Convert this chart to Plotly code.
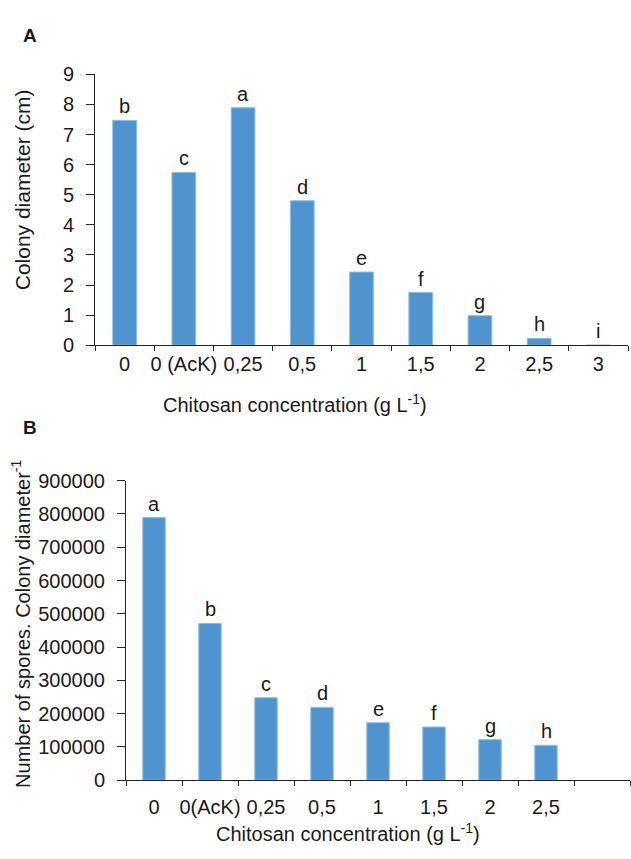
import plotly.graph_objects as go

# ---- data ----
cats_a = ["0", "0 (AcK)", "0,25", "0,5", "1", "1,5", "2", "2,5", "3"]
diam_a = [7.47, 5.74, 7.89, 4.80, 2.43, 1.75, 0.98, 0.23, 0.0]
letters_a = ["b", "c", "a", "d", "e", "f", "g", "h", "i"]

cats_b = ["0", "0(AcK)", "0,25", "0,5", "1", "1,5", "2", "2,5", " "]
spores_b = [789000, 471000, 248000, 219000, 173000, 160000, 122000, 105000, None]
letters_b = ["a", "b", "c", "d", "e", "f", "g", "h", ""]

W, H = 631, 859
FONT = "Liberation Sans, Arial, Helvetica, sans-serif"
BAR = "#4F94CF"
AX = "#262626"
TXT = "#1a1a1a"

fig = go.Figure()
fig.add_trace(go.Bar(x=cats_a, y=diam_a, xaxis="x", yaxis="y",
                     marker=dict(color=BAR, line=dict(color="#8CBCE6", width=1)),
                     showlegend=False, hoverinfo="x+y"))
fig.add_trace(go.Bar(x=cats_b, y=spores_b, xaxis="x2", yaxis="y2",
                     marker=dict(color=BAR, line=dict(color="#8CBCE6", width=1)),
                     showlegend=False, hoverinfo="x+y"))

ann = []
for i, (v, t) in enumerate(zip(diam_a, letters_a)):
    ann.append(dict(x=i, y=v, xref="x", yref="y", text=t, showarrow=False,
                    yanchor="bottom", yshift=1, font=dict(size=20, color=TXT, family=FONT)))
for i, (v, t) in enumerate(zip(spores_b, letters_b)):
    if v is None:
        continue
    ann.append(dict(x=i, y=v, xref="x2", yref="y2", text=t, showarrow=False,
                    yanchor="bottom", yshift=1, font=dict(size=20, color=TXT, family=FONT)))

def px_x(p):
    return p / W

def px_y(p):
    return 1 - p / H

title_font = dict(size=20, color=TXT, family=FONT)
ann += [
    dict(x=px_x(30), y=px_y(25), xref="paper", yref="paper", text="<b>A</b>", showarrow=False,
         xanchor="center", yanchor="middle", font=dict(size=19, color=TXT, family=FONT)),
    dict(x=px_x(30), y=px_y(427), xref="paper", yref="paper", text="<b>B</b>", showarrow=False,
         xanchor="center", yanchor="middle", font=dict(size=19, color=TXT, family=FONT)),
    dict(x=px_x(295), y=px_y(403), xref="paper", yref="paper",
         text="Chitosan concentration (g L<sup>-1</sup>)", showarrow=False,
         xanchor="center", yanchor="middle", font=title_font),
    dict(x=px_x(348), y=px_y(858), xref="paper", yref="paper",
         text="Chitosan concentration (g L<sup>-1</sup>)", showarrow=False,
         xanchor="center", yanchor="bottom", font=title_font),
    dict(x=px_x(22), y=px_y(184), xref="paper", yref="paper",
         text="Colony diameter (cm)", showarrow=False, textangle=-90,
         xanchor="center", yanchor="middle", font=dict(size=21, color=TXT, family=FONT)),
    dict(x=px_x(21), y=px_y(629), xref="paper", yref="paper",
         text="Number of spores. Colony diameter<sup>-1</sup>", showarrow=False, textangle=-90,
         xanchor="center", yanchor="middle", font=title_font),
]

tick_font = dict(size=20, color=TXT, family=FONT)
xcommon = dict(type="category", showline=True, linecolor=AX, linewidth=1, ticks="outside",
               tickson="boundaries", ticklen=5, tickcolor=AX, tickwidth=1, tickangle=0,
               showgrid=False, zeroline=False, tickfont=tick_font, fixedrange=True)
ycommon = dict(showline=True, linecolor=AX, linewidth=1, ticks="outside", ticklen=8,
               tickcolor=AX, tickwidth=1, showgrid=False, zeroline=False, tickfont=tick_font,
               fixedrange=True)

fig.update_layout(
    width=W, height=H,
    margin=dict(l=0, r=0, t=0, b=0),
    paper_bgcolor="white", plot_bgcolor="white",
    bargap=0.6,
    font=dict(family=FONT, color=TXT),
    xaxis=dict(domain=[px_x(95), px_x(628)], anchor="y", categoryorder="array",
               categoryarray=cats_a, range=[-0.5, 8.5], ticklabelstandoff=1, **xcommon),
    yaxis=dict(domain=[px_y(343), px_y(65)], anchor="x", range=[0, 9], dtick=1,
               ticklabelstandoff=8, **ycommon),
    xaxis2=dict(domain=[px_x(126), px_x(630)], anchor="y2", categoryorder="array",
                categoryarray=cats_b, range=[-0.5, 8.5], ticklabelstandoff=9, **xcommon),
    yaxis2=dict(domain=[px_y(789.5), px_y(482)], anchor="x2", range=[0, 900000], dtick=100000,
                tickformat="d", ticklabelstandoff=8, **ycommon),
    annotations=ann,
)

fig.write_html("out.html")
